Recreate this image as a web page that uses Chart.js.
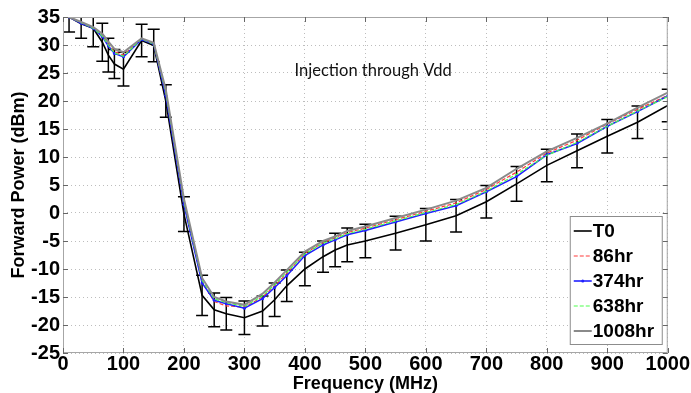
<!DOCTYPE html>
<html>
<head>
<meta charset="utf-8">
<script src="https://cdn.jsdelivr.net/npm/chart.js@4/dist/chart.umd.min.js"></script>
<style>
    html, body { margin: 0; padding: 0; background: #fff; }
    #wrap { width: 691px; height: 393px; }
</style>
</head>
<body>
<div id="wrap"><canvas id="powerChart" width="691" height="393"></canvas></div>
<script>
// ====================================
// Data
// ====================================
var freq = [10, 30, 50, 65, 75, 85, 100, 130, 150, 170, 200, 230, 250, 270, 300, 330, 350, 370,
            400, 430, 450, 470, 500, 550, 600, 650, 700, 750, 800, 850, 900, 950, 1000];

var t0 = [35, 33.8, 33, 30.5, 28.2, 26.6, 25.7, 30.8, 29.9, 20, -0.2, -14.7, -17.3, -18, -18.7, -17.5, -15.5, -13.0,
          -10.0, -7.8, -6.6, -5.7, -5.0, -3.6, -2.1, -0.5, 2.0, 5.2, 8.5, 11.1, 13.7, 16.2, 19.2];
var t0Err = [2.7, 2.6, 3.3, 3.4, 3.0, 2.6, 3.0, 2.9, 2.9, 2.9, 3.1, 3.6, 3.0, 2.9, 3.0, 2.7, 3.0, 2.8,
             3.0, 2.8, 3.0, 3.0, 3.0, 3.0, 2.9, 2.9, 2.9, 3.1, 2.9, 3.0, 3.0, 2.9, 2.9];

var hr86 = [35, 34, 33.1, 31.8, 30.2, 28.8, 28.2, 31.1, 30.3, 21.3, 1.8, -12.3, -15.8, -16.6, -16.8, -15.0, -13.0, -10.8,
            -7.2, -5.3, -4.4, -3.5, -2.7, -1.2, 0.3, 1.8, 4.2, 7.3, 10.7, 13.0, 15.9, 18.5, 21.0];
var hr374 = [35, 33.9, 33, 31.5, 29.8, 28.5, 27.9, 31, 30.2, 21, 1.5, -12.5, -15.6, -16.2, -17.0, -15.3, -13.3, -11.2,
             -7.6, -5.7, -4.8, -3.9, -3.1, -1.6, -0.1, 1.3, 3.8, 6.5, 10.4, 12.4, 15.5, 18.1, 20.9];
var hr638 = [35, 34, 33, 31.6, 30, 28.6, 28.0, 31.1, 30.2, 21.5, 2.0, -12.0, -15.3, -16.0, -16.7, -14.8, -12.8, -10.6,
             -7.3, -5.4, -4.6, -3.7, -2.9, -1.4, 0.1, 1.5, 3.9, 6.9, 10.3, 12.6, 15.5, 18.2, 20.8];
var hr1008 = [35, 34.1, 33.2, 32, 30.6, 29.3, 28.7, 31.2, 30.4, 22, 2.5, -11.6, -15.0, -15.8, -16.4, -14.4, -12.4, -10.2,
              -6.9, -5.0, -4.2, -3.2, -2.4, -0.9, 0.6, 2.2, 4.5, 7.9, 11.0, 13.4, 16.0, 18.8, 21.5];

var seriesNames = ['T0', '86hr', '374hr', '638hr', '1008hr'];
var xRange = [0, 1000, 100];   // min, max, step
var yRange = [-25, 35, 5];
var noteText = 'Injection through Vdd';
var notePos = [383, 25.5];     // frequency, dBm

function toPoints(values) {
    return values.map(function(v, i) { return { x: freq[i], y: v }; });
}

var FONT = '"Liberation Sans", Arial, sans-serif';

// ====================================
// Plugins: error bars, frame, note, legend box
// ====================================
var errorBars = {
    id: 'errorBars',
    beforeDatasetsDraw: function(chart) {
        var ctx = chart.ctx, area = chart.chartArea;
        var xs = chart.scales.x, ys = chart.scales.y;
        ctx.save();
        ctx.beginPath();
        ctx.rect(area.left, area.top, area.right - area.left, area.bottom - area.top);
        ctx.clip();
        ctx.strokeStyle = '#000';
        ctx.lineWidth = 1.5;
        for (var i = 0; i < freq.length; i++) {
            var px = xs.getPixelForValue(freq[i]);
            var top = ys.getPixelForValue(t0[i] + t0Err[i]);
            var bot = ys.getPixelForValue(t0[i] - t0Err[i]);
            ctx.beginPath();
            ctx.moveTo(px, top); ctx.lineTo(px, bot);
            ctx.moveTo(px - 6, top); ctx.lineTo(px + 6, top);
            ctx.moveTo(px - 6, bot); ctx.lineTo(px + 6, bot);
            ctx.stroke();
        }
        ctx.restore();
    }
};

var frameAndNote = {
    id: 'frameAndNote',
    afterDraw: function(chart) {
        var ctx = chart.ctx, a = chart.chartArea;
        var xs = chart.scales.x, ys = chart.scales.y;
        ctx.save();
        // box around the plot
        ctx.strokeStyle = '#a6a6a6';
        ctx.lineWidth = 1;
        ctx.strokeRect(a.left + 0.5, a.top + 0.5, a.right - a.left - 1, a.bottom - a.top - 1);
        // small inward ticks on all sides
        ctx.strokeStyle = '#666';
        ctx.beginPath();
        for (var v = xRange[0]; v <= xRange[1]; v += xRange[2]) {
            var px = Math.round(xs.getPixelForValue(v)) + 0.5;
            ctx.moveTo(px, a.top); ctx.lineTo(px, a.top + 5);
            ctx.moveTo(px, a.bottom); ctx.lineTo(px, a.bottom - 5);
        }
        for (var w = yRange[0]; w <= yRange[1]; w += yRange[2]) {
            var py = Math.round(ys.getPixelForValue(w)) + 0.5;
            ctx.moveTo(a.right, py); ctx.lineTo(a.right - 5, py);
            ctx.moveTo(a.left, py); ctx.lineTo(a.left + 5, py);
        }
        ctx.stroke();
        // note
        ctx.fillStyle = '#111';
        ctx.font = '16.5px Lato, "Open Sans", sans-serif';
        ctx.textBaseline = 'middle';
        ctx.textAlign = 'left';
        ctx.fillText(noteText, xs.getPixelForValue(notePos[0]), ys.getPixelForValue(notePos[1]));

        // legend box
        var bw = 92, bh = 128;
        var bx = a.right - 6 - bw, by = a.bottom - 9 - bh;
        ctx.fillStyle = '#fff';
        ctx.fillRect(bx, by, bw, bh);
        ctx.strokeStyle = '#8c8c8c';
        ctx.lineWidth = 1;
        ctx.strokeRect(bx + 0.5, by + 0.5, bw, bh);
        ctx.font = 'bold 19px ' + FONT;
        chart.data.datasets.forEach(function(ds, i) {
            var cy = by + 15 + i * 25;
            ctx.strokeStyle = ds.borderColor;
            ctx.lineWidth = ds.borderWidth;
            ctx.setLineDash(ds.borderDash || []);
            ctx.beginPath();
            ctx.moveTo(bx + 4, cy); ctx.lineTo(bx + 22, cy);
            ctx.stroke();
            ctx.setLineDash([]);
            if (ds.pointRadius > 0) {
                ctx.fillStyle = ds.borderColor;
                ctx.beginPath();
                ctx.arc(bx + 13, cy, 1.5, 0, Math.PI * 2);
                ctx.fill();
            }
            ctx.fillStyle = '#000';
            ctx.fillText(ds.label, bx + 23, cy + 1);
        });
        ctx.restore();
    }
};

// ====================================
// Chart
// ====================================
var lineStyles = [
    { color: '#000000', width: 1.6, dash: [], radius: 0 },
    { color: '#ff3b3b', width: 1.2, dash: [4, 2], radius: 0 },
    { color: '#2020ff', width: 1.6, dash: [], radius: 1.5 },
    { color: '#4cff4c', width: 1.2, dash: [4, 2], radius: 0 },
    { color: '#8a8a8a', width: 2, dash: [], radius: 0 }
];
var seriesValues = [t0, hr86, hr374, hr638, hr1008];

var datasets = seriesValues.map(function(vals, i) {
    var s = lineStyles[i];
    return {
        label: seriesNames[i],
        data: toPoints(vals),
        borderColor: s.color,
        backgroundColor: s.color,
        borderWidth: s.width,
        borderDash: s.dash,
        pointRadius: s.radius,
        pointBorderWidth: 0,
        tension: 0,
        fill: false,
        order: 5 - i
    };
});

var ctx = document.getElementById('powerChart').getContext('2d');
new Chart(ctx, {
    type: 'line',
    data: { datasets: datasets },
    options: {
        responsive: false,
        animation: false,
        layout: { padding: { top: 17, right: 22, left: 0, bottom: 0 } },
        plugins: {
            legend: { display: false },
            tooltip: { enabled: false }
        },
        scales: {
            x: {
                type: 'linear',
                min: xRange[0],
                max: xRange[1],
                afterFit: function(scale) { scale.height = 40; },
                ticks: {
                    stepSize: xRange[2],
                    color: '#000',
                    padding: 1,
                    maxRotation: 0,
                    font: { family: FONT, size: 20, weight: 'bold', lineHeight: 1.0 },
                    callback: function(v) { return String(v); }
                },
                grid: {
                    color: '#bdbdbd',
                    drawTicks: false
                },
                border: { display: false, dash: [1, 3] },
                title: {
                    display: true,
                    text: 'Frequency (MHz)',
                    color: '#000',
                    padding: 0,
                    font: { family: FONT, size: 18, weight: 'bold', lineHeight: 1.0 }
                }
            },
            y: {
                min: yRange[0],
                max: yRange[1],
                afterFit: function(scale) { scale.width = 63; },
                ticks: {
                    stepSize: yRange[2],
                    color: '#000',
                    padding: 3,
                    font: { family: FONT, size: 20, weight: 'bold' }
                },
                grid: {
                    color: '#bdbdbd',
                    drawTicks: false
                },
                border: { display: false, dash: [1, 3] },
                title: {
                    display: true,
                    text: 'Forward Power (dBm)',
                    color: '#000',
                    padding: { top: 10, bottom: 0 },
                    font: { family: FONT, size: 18, weight: 'bold', lineHeight: 1.0 }
                }
            }
        }
    },
    plugins: [errorBars, frameAndNote]
});
</script>
</body>
</html>
